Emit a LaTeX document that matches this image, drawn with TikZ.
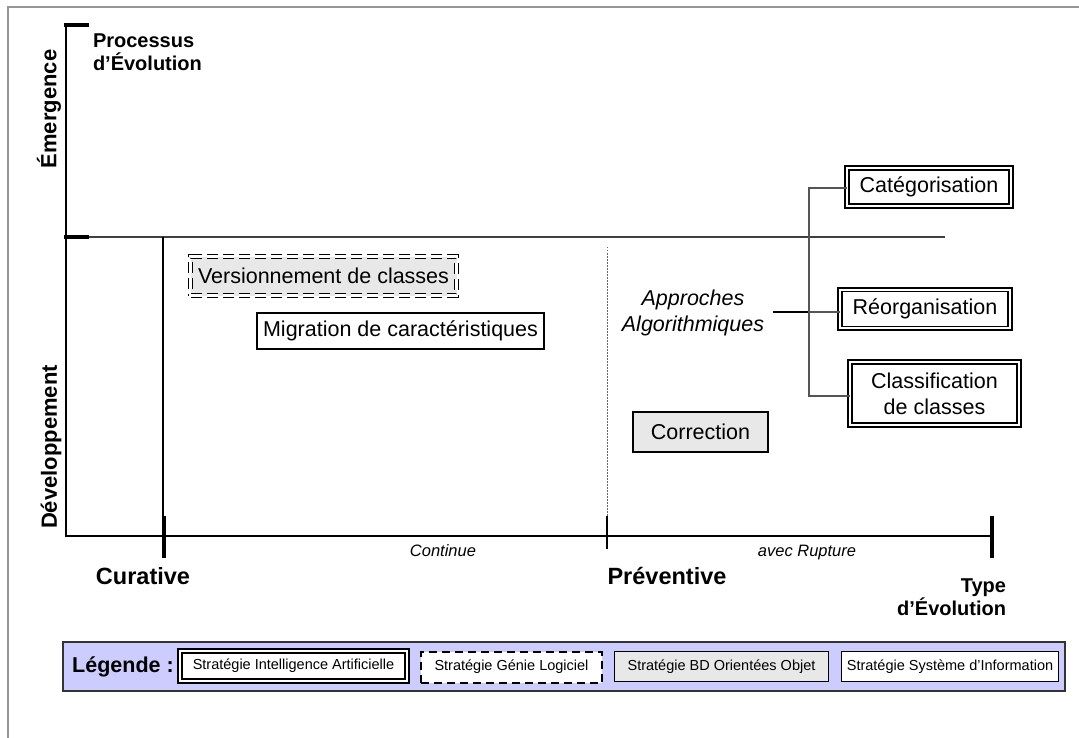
\documentclass[tikz,border=0pt]{standalone}
\usepackage{fontspec}
\setmainfont{Liberation Sans}
\definecolor{framegray}{RGB}{150,150,150}
\definecolor{boxgray}{RGB}{232,232,232}
\definecolor{legendfill}{RGB}{204,204,255}
\definecolor{linkgray}{RGB}{85,85,85}
\newcommand\bigtxt{\fontsize{21.5}{26}\selectfont}
\newcommand\lbltxt{\fontsize{20}{22.5}\selectfont}
\newcommand\bottxt{\fontsize{23.5}{26}\selectfont}
\newcommand\sidetxt{\fontsize{22}{26}\selectfont}
\newcommand\axtxt{\fontsize{16.5}{20}\selectfont}
\newcommand\legtxt{\fontsize{14.5}{17}\selectfont}
\tikzset{
  every node/.style={inner sep=0pt, outer sep=0pt},
  axisline/.style={line width=1.6pt, black},
  midline/.style={line width=1.5pt, black!75},
  thicktick/.style={line width=4.5pt, black},
  thintick/.style={line width=1.3pt, black},
  link/.style={line width=1.1pt, linkgray},
  iabox/.style={draw=black, double=white, double distance=2.2pt, line width=1.6pt,
    fill=white, align=center, font=\bigtxt},
  glbox/.style={draw=black, double=white, double distance=2.4pt, line width=1.6pt,
    dash pattern=on 11pt off 5pt, fill=boxgray, align=center, font=\bigtxt},
  bdbox/.style={draw=black, line width=1.6pt, fill=boxgray, align=center, font=\bigtxt},
  sibox/.style={draw=black, line width=1.6pt, fill=white, align=center, font=\bigtxt},
  axislabel/.style={font=\lbltxt\bfseries},
  sidelabel/.style={font=\sidetxt\bfseries, rotate=90},
}
\begin{document}
\begin{tikzpicture}[x=1pt, y=-1pt]
\useasboundingbox (0,0) rectangle (1079,738);

% outer frame (top and left edges)
\draw[framegray, line width=2pt] (8,738) -- (8,7) -- (1079,7);

% axes
\coordinate (ytop) at (66,25);
\coordinate (origin) at (66,536);
\coordinate (xend) at (992,536);
\coordinate (ymid) at (66,237);
\coordinate (midend) at (945,237);
\coordinate (curtop) at (163,237);
\coordinate (curbot) at (163,536);
\draw[axisline] (ytop) -- (origin) -- (xend);
\draw[midline] (ymid) -- (midend);
\draw[line width=1.2pt] (curtop) -- (curbot);
\draw[black!60, line width=0.9pt, dash pattern=on 1.5pt off 1.5pt] (607,247) -- (607,516);

% ticks
\draw[line width=4pt] (64,25) -- (89,25);
\draw[line width=4pt] (64,237) -- (89,237);
\draw[thicktick] (164,516) -- (164,558);
\draw[thicktick] (992,516) -- (992,558);
\draw[thintick] (607,516) -- (607,549);

% axis titles
\node[axislabel, align=left, anchor=west] (proc) at (93,52) {Processus\\d’Évolution};
\node[sidelabel] (emer) at (49,109) {Émergence};
\node[sidelabel] (dev) at (51,447) {Développement};
\node[font=\bottxt\bfseries] (cur) at (143,576) {Curative};
\node[font=\bottxt\bfseries] (prev) at (667,576) {Préventive};
\node[axislabel, align=right, anchor=east] (typ) at (1006,597) {Type\\d’Évolution};
\node[font=\axtxt\itshape, anchor=base] (cont) at (443,556) {Continue};
\node[font=\axtxt\itshape, anchor=base] (rupt) at (807,556) {avec Rupture};

% strategies
\node[glbox, minimum width=266pt, minimum height=39pt] (vers) at (323.5,276) {Versionnement de classes};
\node[sibox, minimum width=287pt, minimum height=36pt] (migr) at (400.5,331) {Migration de caractéristiques};
\node[bdbox, minimum width=135pt, minimum height=40pt] (corr) at (700.5,432) {Correction};
\node[iabox, minimum width=164pt, minimum height=38pt] (cat) at (929,187) {Catégorisation};
\node[iabox, minimum width=170pt, minimum height=38.5pt] (reo) at (925,309) {Réorganisation};
\node[iabox, minimum width=169pt, minimum height=63pt] (cla) at (934.5,393.5) {Classification\\de classes};

% algorithmic approaches and their branches
\node[font=\bigtxt\itshape, align=center] (alg) at (693,313) {Approches\\Algorithmiques};
\coordinate (jn) at (809,312);
\coordinate (jtop) at (809,188);
\coordinate (jbot) at (809,396);
\draw[line width=1.2pt] ([xshift=9pt]alg.east |- jn) -- (jn);
\draw[link] (cat.west |- jtop) -- (jtop) -- (jbot) -- (cla.west |- jbot);
\draw[link] (jn) -- (reo.west |- jn);

% legend
\node[draw=black!80, line width=1.5pt, fill=legendfill, minimum width=1002pt, minimum height=49pt,
  anchor=north west] (leg) at (63,642) {};
\node[font=\bigtxt\bfseries] (legtitle) at (123,667) {Légende :};
\node[iabox, font=\legtxt, minimum width=227pt, minimum height=30pt] (legia) at (293.5,666) {Stratégie Intelligence Artificielle};
\node[draw=black, line width=2pt, dash pattern=on 8pt off 5pt, fill=white, font=\legtxt,
  minimum width=181pt, minimum height=31pt] (leggl) at (511.5,667) {Stratégie Génie Logiciel};
\node[bdbox, font=\legtxt, minimum width=214pt, minimum height=30pt] (legbd) at (721.5,666.5) {Stratégie BD Orientées Objet};
\node[sibox, font=\legtxt, minimum width=217pt, minimum height=30pt] (legsi) at (950,666.5) {Stratégie Système d’Information};
\end{tikzpicture}
\end{document}
